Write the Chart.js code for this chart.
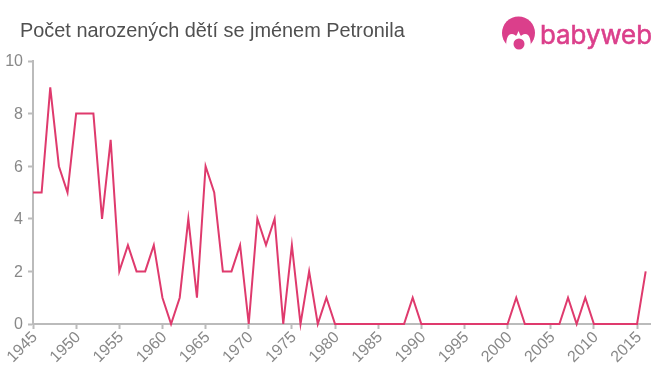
<!DOCTYPE html>
<html>
<head>
<meta charset="utf-8">
<script src="https://cdn.jsdelivr.net/npm/chart.js@4/dist/chart.umd.min.js"></script>
<style>
    html, body { margin: 0; padding: 0; background: #fff; }
    #wrap { position: relative; width: 660px; height: 375px; overflow: hidden; }
    #title { position: absolute; left: 20px; top: 19px; font: 19.9px/23px "Liberation Sans", Arial, sans-serif; color: #505050; white-space: nowrap; }
    #logo { position: absolute; left: 495px; top: 8px; }
</style>
</head>
<body>
<div id="wrap">
    <canvas id="chart" width="660" height="375"></canvas>
    <div id="title">Počet narozených dětí se jménem Petronila</div>
    <svg id="logo" width="165" height="50" viewBox="0 0 165 50">
        <circle cx="23.5" cy="25" r="16.5" fill="#db3f8b"/>
        <path d="M11 42C11 32 12 26 17 26c2 0 3 1 4 2 1-1 1.500-3 2.500-5 1 2 1.500 4 2.500 5 1-1 2-2 4-2 5 0 6 6 6 16z" fill="#fff"/>
        <circle cx="24" cy="36" r="5.500" fill="#db3f8b"/>
        <text x="45" y="36" font-family="Inter, Lato, sans-serif" font-size="26" fill="#db3f8b" stroke="#db3f8b" stroke-width="0.6" textLength="112" lengthAdjust="spacingAndGlyphs">babyweb</text>
    </svg>
</div>
<script>
var years = [];
for (var y = 1945; y <= 2016; y++) years.push(y);

var counts = [5, 5, 9, 6, 5, 8, 8, 8, 4, 7,
    2, 3, 2, 2, 3, 1, 0, 1, 4, 1,
    6, 5, 2, 2, 3, 0, 4, 3, 4, 0,
    3, 0, 2, 0, 1, 0, 0, 0, 0, 0,
    0, 0, 0, 0, 1, 0, 0, 0, 0, 0,
    0, 0, 0, 0, 0, 0, 1, 0, 0, 0,
    0, 0, 1, 0, 1, 0, 0, 0, 0, 0,
    0, 2];

var points = years.map(function (year, i) {
    return { x: year, y: counts[i] };
});

new Chart("chart", {
    type: "line",
    data: {
        datasets: [{
            data: points,
            borderColor: "#df3a6d",
            borderWidth: 2,
            pointRadius: 0,
            tension: 0,
            clip: false
        }]
    },
    options: {
        responsive: false,
        animation: false,
        layout: { padding: { top: 61, right: 10, left: 0, bottom: 0 } },
        plugins: { legend: { display: false }, tooltip: { enabled: false } },
        scales: {
            x: {
                type: "linear",
                min: 1945,
                max: 2016.5,
                afterFit: function (scale) { scale.height = 51; },
                grid: { drawOnChartArea: false, tickLength: 5, tickColor: "#bbb", tickWidth: 2 },
                border: { color: "#bbb", width: 2 },
                ticks: {
                    stepSize: 5,
                    includeBounds: false,
                    autoSkip: false,
                    maxRotation: 45,
                    minRotation: 45,
                    padding: -1,
                    labelOffset: 2,
                    color: "#888",
                    font: { family: "'Liberation Sans', Arial, sans-serif", size: 16 },
                    callback: function (value) { return String(value); }
                }
            },
            y: {
                min: 0,
                max: 10,
                afterFit: function (scale) { scale.width = 33; },
                grid: { drawOnChartArea: false, tickLength: 5, tickColor: "#bbb", tickWidth: 2 },
                border: { color: "#bbb", width: 2 },
                ticks: {
                    stepSize: 2,
                    padding: 5,
                    labelOffset: 1,
                    color: "#888",
                    font: { family: "'Liberation Sans', Arial, sans-serif", size: 16 }
                }
            }
        }
    }
});
</script>
</body>
</html>
